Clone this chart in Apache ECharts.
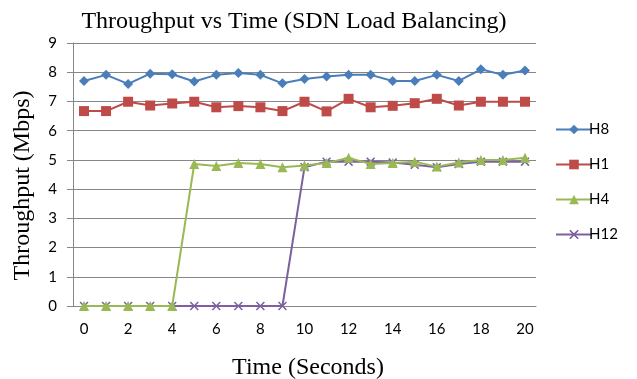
<!DOCTYPE html>
<html><head><meta charset="utf-8">
<script src="https://cdn.jsdelivr.net/npm/echarts@6/dist/echarts.min.js"></script>
<style>html,body{margin:0;padding:0;background:#fff}#c{width:637px;height:379px}</style>
</head><body><div id="c"></div>
<script>
const categories = ['0','1','2','3','4','5','6','7','8','9','10','11','12','13','14','15','16','17','18','19','20'];
const yTicks = [0,1,2,3,4,5,6,7,8,9];
const H8 = [7.70,7.91,7.60,7.95,7.93,7.68,7.91,7.97,7.91,7.62,7.77,7.85,7.91,7.91,7.70,7.70,7.91,7.70,8.10,7.91,8.06];
const H1 = [6.67,6.67,6.99,6.86,6.93,6.99,6.80,6.84,6.80,6.67,6.99,6.66,7.09,6.80,6.85,6.94,7.09,6.86,6.99,6.99,6.99];
const H4 = [0,0,0,0,0,4.86,4.79,4.89,4.86,4.75,4.81,4.89,5.07,4.86,4.89,4.94,4.77,4.91,5.00,5.00,5.07];
const H12 = [0,0,0,0,0,0,0,0,0,0,4.75,4.94,4.94,4.94,4.91,4.83,4.75,4.86,4.94,4.94,4.94];
const seriesNames = ['H8','H1','H4','H12'];

const colors = ['#4A7EBB','#BE4B48','#98B954','#7D60A0'];
const xSym = 'path://M0,1.2L1.2,0L5,3.8L8.8,0L10,1.2L6.2,5L10,8.8L8.8,10L5,6.2L1.2,10L0,8.8L3.8,5Z';
const symbols = ['diamond','rect','triangle',xSym];
const sizes = [10,10,10,9];
const datas = [H8,H1,H4,H12];

const chart = echarts.init(document.getElementById('c'));
chart.setOption({
  animation:false,
  title:{text:'Throughput vs Time (SDN Load Balancing)',left:289,textAlign:'center',top:5,
    textStyle:{fontFamily:'Liberation Serif',fontSize:24,fontWeight:'normal',color:'#000'}},
  legend:{orient:'vertical',left:550,top:117,itemGap:20,itemWidth:36,itemHeight:12,
    data:seriesNames,
    textStyle:{fontFamily:'Lato',fontSize:15,color:'#000',padding:[0,0,0,-8]}},
  grid:{left:73,right:101,top:43,bottom:73,containLabel:false,outerBoundsMode:'none'},
  xAxis:{type:'category',data:categories,boundaryGap:true,
    name:'Time (Seconds)',nameLocation:'middle',nameGap:50,
    nameTextStyle:{fontFamily:'Liberation Serif',fontSize:24,color:'#000',padding:[0,0,0,7]},
    axisLine:{lineStyle:{color:'#868686'}},
    axisTick:{interval:1,length:6,lineStyle:{color:'#868686'}},
    axisLabel:{interval:1,fontFamily:'Lato',fontSize:15,color:'#000',margin:16},
    splitLine:{show:false}},
  yAxis:{type:'value',min:0,max:9,interval:1,
    name:'Throughput (Mbps)',nameLocation:'middle',nameGap:38,
    nameTextStyle:{fontFamily:'Liberation Serif',fontSize:24,color:'#000',padding:[0,22,0,0]},
    axisLine:{show:true,lineStyle:{color:'#868686'}},
    axisTick:{show:true,length:6,lineStyle:{color:'#868686'}},
    axisLabel:{fontFamily:'Lato',fontSize:15,color:'#000',margin:16,
      formatter:v=>yTicks.includes(v)?String(v):''},
    splitLine:{lineStyle:{color:'#868686',width:1}}},
  series: seriesNames.map((n,i)=>({
    name:n,type:'line',data:datas[i],symbol:symbols[i],symbolSize:sizes[i],
    showSymbol:true,
    lineStyle:{color:colors[i],width:2},
    itemStyle:{color:colors[i]},
    z:10-i
  }))
});
</script></body></html>
